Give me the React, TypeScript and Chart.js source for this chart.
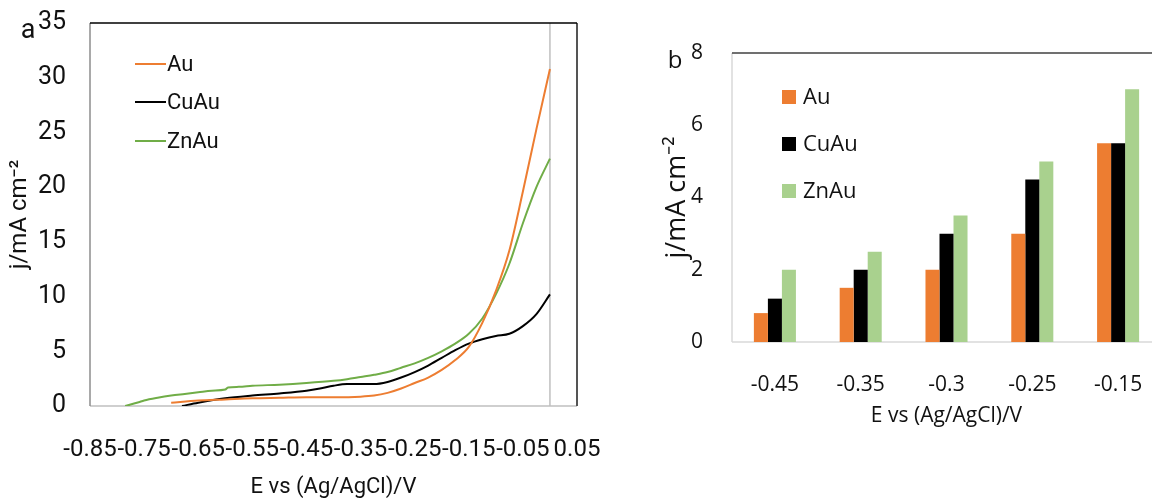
import React, { useEffect, useRef } from "react";
import { Chart, registerables } from "chart.js";

Chart.register(...registerables);

// ---------- Panel a: linear sweep voltammetry ----------
const seriesNames = ["Au", "CuAu", "ZnAu"];

const auE = [-0.70, -0.65, -0.60, -0.55, -0.50, -0.45, -0.40, -0.35, -0.325, -0.30, -0.275, -0.25, -0.225, -0.20, -0.175, -0.15, -0.125, -0.10, -0.075, -0.05, -0.025, 0.0];
const auJ = [0.3, 0.5, 0.6, 0.7, 0.75, 0.8, 0.8, 0.85, 0.95, 1.2, 1.6, 2.1, 2.6, 3.3, 4.2, 5.4, 7.6, 10.5, 14.2, 19.6, 25.3, 30.8];

const cuauE = [-0.68, -0.65, -0.60, -0.55, -0.50, -0.45, -0.425, -0.40, -0.375, -0.35, -0.325, -0.30, -0.275, -0.25, -0.225, -0.20, -0.175, -0.15, -0.125, -0.10, -0.075, -0.05, -0.025, 0.0];
const cuauJ = [0.0, 0.3, 0.7, 0.95, 1.15, 1.4, 1.6, 1.85, 2.0, 2.0, 2.0, 2.2, 2.6, 3.1, 3.7, 4.4, 5.1, 5.7, 6.1, 6.4, 6.6, 7.3, 8.4, 10.2];

const znauE = [-0.785, -0.76, -0.75, -0.725, -0.70, -0.675, -0.65, -0.625, -0.60, -0.595, -0.575, -0.55, -0.50, -0.45, -0.40, -0.375, -0.35, -0.325, -0.30, -0.275, -0.25, -0.225, -0.20, -0.175, -0.15, -0.125, -0.10, -0.075, -0.05, -0.025, 0.0];
const znauJ = [0.0, 0.35, 0.5, 0.75, 0.95, 1.1, 1.25, 1.4, 1.5, 1.7, 1.75, 1.85, 1.95, 2.1, 2.3, 2.45, 2.65, 2.85, 3.1, 3.5, 3.9, 4.4, 5.0, 5.7, 6.6, 8.0, 10.2, 13.0, 16.7, 20.0, 22.6];

// ---------- Panel b: bar chart ----------
const barCategories = ["-0.45", "-0.35", "-0.3", "-0.25", "-0.15"];
const barAu = [0.8, 1.5, 2.0, 3.0, 5.5];
const barCuAu = [1.2, 2.0, 3.0, 4.5, 5.5];
const barZnAu = [2.0, 2.5, 3.5, 5.0, 7.0];

const lineColors = ["#ED7D31", "#000000", "#70AD47"];
const barColors = ["#ED7D31", "#000000", "#A9D18E"];
const textColor = "#111111";

const xTitle = "E vs (Ag/AgCl)/V";
const yTitle = "j/mA cm\u207B\u00B2";

const toPoints = (xs: number[], ys: number[]) => xs.map((x, i) => ({ x, y: ys[i] }));

const frameA = {
  id: "frameA",
  beforeDatasetsDraw(chart: any) {
    const { ctx, chartArea: a, scales } = chart;
    ctx.save();
    ctx.strokeStyle = "#bfbfbf";
    ctx.lineWidth = 1.5;
    ctx.beginPath();
    ctx.moveTo(a.left, a.bottom);
    ctx.lineTo(a.right, a.bottom);
    ctx.stroke();
    const x0 = scales.x.getPixelForValue(0);
    ctx.beginPath();
    ctx.moveTo(x0, a.top);
    ctx.lineTo(x0, a.bottom);
    ctx.stroke();
    ctx.strokeStyle = "#8c8c8c";
    ctx.beginPath();
    ctx.moveTo(a.left, a.top);
    ctx.lineTo(a.left, a.bottom);
    ctx.stroke();
    ctx.strokeStyle = "#555555";
    ctx.lineWidth = 2;
    ctx.beginPath();
    ctx.moveTo(a.right, a.top);
    ctx.lineTo(a.right, a.bottom);
    ctx.stroke();
    ctx.strokeStyle = "#000000";
    ctx.lineWidth = 1.5;
    ctx.beginPath();
    ctx.moveTo(a.left, a.top);
    ctx.lineTo(a.right, a.top);
    ctx.stroke();
    ctx.restore();
  },
  afterDraw(chart: any) {
    const { ctx } = chart;
    ctx.save();
    ctx.font = "22px Roboto";
    ctx.textBaseline = "middle";
    ctx.textAlign = "left";
    const ys = [64, 102, 141];
    seriesNames.forEach((name, i) => {
      ctx.strokeStyle = lineColors[i];
      ctx.lineWidth = 2;
      ctx.beginPath();
      ctx.moveTo(135, ys[i]);
      ctx.lineTo(166, ys[i]);
      ctx.stroke();
      ctx.fillStyle = textColor;
      ctx.fillText(name, 167, ys[i] + 1);
    });
    ctx.font = "27px Roboto";
    ctx.textAlign = "center";
    ctx.fillText("a", 28, 31);
    ctx.restore();
  },
};

const frameB = {
  id: "frameB",
  beforeDatasetsDraw(chart: any) {
    const { ctx, chartArea: a } = chart;
    ctx.save();
    ctx.strokeStyle = "#d9d9d9";
    ctx.lineWidth = 1.5;
    ctx.beginPath();
    ctx.moveTo(a.left, a.top);
    ctx.lineTo(a.left, a.bottom);
    ctx.moveTo(a.left, a.bottom);
    ctx.lineTo(a.right, a.bottom);
    ctx.stroke();
    ctx.strokeStyle = "#404040";
    ctx.lineWidth = 1.5;
    ctx.beginPath();
    ctx.moveTo(a.left, a.top);
    ctx.lineTo(a.right, a.top);
    ctx.stroke();
    ctx.restore();
  },
  afterDraw(chart: any) {
    const { ctx } = chart;
    ctx.save();
    ctx.font = "22px 'Open Sans'";
    ctx.textBaseline = "middle";
    ctx.textAlign = "left";
    const ys = [97, 144, 191];
    seriesNames.forEach((name, i) => {
      ctx.fillStyle = barColors[i];
      ctx.fillRect(782 - 640, ys[i] - 7, 14, 14);
      ctx.fillStyle = textColor;
      ctx.fillText(name, 803 - 640, ys[i] + 1);
    });
    ctx.font = "24px 'Open Sans'";
    ctx.textAlign = "center";
    ctx.fillText("b", 675 - 640, 61);
    ctx.restore();
  },
};

export default function App() {
  const refA = useRef<HTMLCanvasElement | null>(null);
  const refB = useRef<HTMLCanvasElement | null>(null);

  useEffect(() => {
    const chartA = new Chart(refA.current as HTMLCanvasElement, {
      type: "line",
      data: {
        datasets: [
          { label: seriesNames[0], data: toPoints(auE, auJ), borderColor: lineColors[0] },
          { label: seriesNames[1], data: toPoints(cuauE, cuauJ), borderColor: lineColors[1] },
          { label: seriesNames[2], data: toPoints(znauE, znauJ), borderColor: lineColors[2] },
        ].map((d) => ({
          ...d,
          borderWidth: 2,
          pointRadius: 0,
          fill: false,
          cubicInterpolationMode: "monotone" as const,
        })),
      },
      options: {
        animation: false,
        responsive: false,
        layout: { padding: { left: 0, top: 23, right: 640 - 577, bottom: 0 } },
        plugins: { legend: { display: false }, tooltip: { enabled: false } },
        scales: {
          x: {
            type: "linear",
            min: -0.85,
            max: 0.05,
            grid: { display: false },
            border: { display: false },
            ticks: {
              stepSize: 0.1,
              autoSkip: false,
              maxRotation: 0,
              minRotation: 0,
              padding: 22,
              color: textColor,
              font: { family: "Roboto", size: 24 },
              callback: (v: any) => Number(v).toFixed(2),
            },
            title: {
              display: true,
              text: xTitle,
              color: textColor,
              font: { family: "Roboto", size: 22 },
              padding: { top: 0, bottom: 0 },
            },
            afterFit: (s: any) => {
              s.height = 501 - 406;
              s.paddingLeft = 0;
              s.paddingRight = 0;
            },
          },
          y: {
            min: 0,
            max: 35,
            grid: { display: false },
            border: { display: false },
            ticks: {
              stepSize: 5,
              padding: 16,
              color: textColor,
              font: { family: "Roboto", size: 25 },
            },
            title: {
              display: true,
              text: yTitle,
              color: textColor,
              font: { family: "Roboto", size: 24 },
              padding: { top: 6, bottom: 0 },
            },
            afterFit: (s: any) => {
              s.width = 90;
              s.paddingTop = 0;
              s.paddingBottom = 0;
            },
          },
        },
      } as any,
      plugins: [frameA],
    });

    const chartB = new Chart(refB.current as HTMLCanvasElement, {
      type: "bar",
      data: {
        labels: barCategories,
        datasets: [
          { label: seriesNames[0], data: barAu, backgroundColor: barColors[0] },
          { label: seriesNames[1], data: barCuAu, backgroundColor: barColors[1] },
          { label: seriesNames[2], data: barZnAu, backgroundColor: barColors[2] },
        ].map((d) => ({ ...d, categoryPercentage: 0.49, barPercentage: 1.0, borderWidth: 0 })),
      },
      options: {
        animation: false,
        responsive: false,
        layout: { padding: { left: 0, top: 53, right: 560 - (1161 - 640), bottom: 0 } },
        plugins: { legend: { display: false }, tooltip: { enabled: false } },
        scales: {
          x: {
            grid: { display: false },
            border: { display: false },
            ticks: {
              autoSkip: false,
              maxRotation: 0,
              minRotation: 0,
              padding: 22,
              color: textColor,
              font: { family: "Open Sans", size: 21 },
            },
            title: {
              display: true,
              text: xTitle,
              color: textColor,
              font: { family: "Open Sans", size: 21 },
              padding: { top: 0, bottom: 72 },
            },
            afterFit: (s: any) => {
              s.height = 501 - 342;
              s.paddingLeft = 0;
              s.paddingRight = 0;
            },
          },
          y: {
            min: 0,
            max: 8,
            grid: { display: false },
            border: { display: false },
            ticks: {
              stepSize: 2,
              padding: 21,
              color: textColor,
              font: { family: "Open Sans", size: 21 },
            },
            title: {
              display: true,
              text: yTitle,
              color: textColor,
              font: { family: "Open Sans", size: 27 },
              padding: { top: 21, bottom: 0 },
            },
            afterFit: (s: any) => {
              s.width = 732 - 640;
              s.paddingTop = 0;
              s.paddingBottom = 0;
            },
          },
        },
      } as any,
      plugins: [frameB],
    });

    return () => {
      chartA.destroy();
      chartB.destroy();
    };
  }, []);

  return (
    <div
      style={{
        position: "fixed",
        left: 0,
        top: 0,
        width: 1152,
        height: 501,
        overflow: "hidden",
        background: "#ffffff",
      }}
    >
      <canvas
        ref={refA}
        width={640}
        height={501}
        style={{ position: "absolute", left: 0, top: 0, width: 640, height: 501 }}
      />
      <canvas
        ref={refB}
        width={560}
        height={501}
        style={{ position: "absolute", left: 640, top: 0, width: 560, height: 501 }}
      />
    </div>
  );
}
